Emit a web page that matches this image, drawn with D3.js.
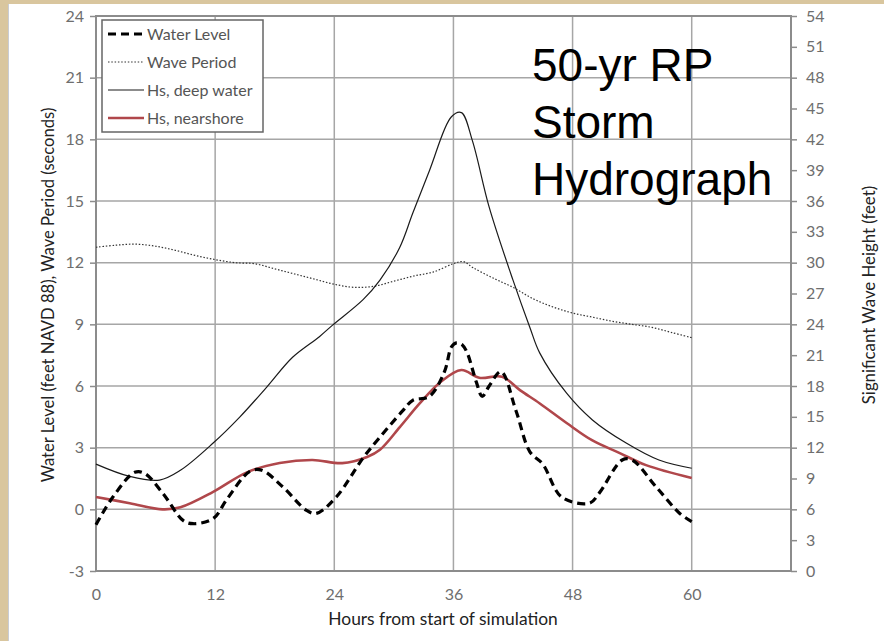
<!DOCTYPE html>
<html>
<head>
<meta charset="utf-8">
<title>50-yr RP Storm Hydrograph</title>
<script src="https://cdnjs.cloudflare.com/ajax/libs/d3/7.8.5/d3.min.js"></script>
<style>
  html, body { margin: 0; padding: 0; background: #d9c69e; }
  svg { display: block; }
  .tick text { font-family: Lato, "Open Sans", sans-serif; }
</style>
</head>
<body>
<svg id="chart" width="884" height="641"></svg>
<script>
// water level (ft NAVD88), left axis
const wlHours = [0, 1.7, 3.9, 4.9, 6.7, 8.8, 9.8, 11.8, 13.2, 15.5, 16.7, 18.8, 21.2, 22.2, 24.2, 26.9, 28.4, 30.9, 31.9, 33.6, 35.1, 35.8, 36.3, 36.9, 37.4, 38.3, 38.9, 39.6, 40.8, 42.3, 43.7, 45, 46.9, 49.7, 50.7, 53, 54, 56.4, 58.8, 60]
const wlValues = [-0.75, 0.6, 1.8, 1.75, 0.8, -0.55, -0.7, -0.45, 0.5, 1.85, 1.9, 1.1, -0.05, -0.2, 0.6, 2.5, 3.4, 4.8, 5.3, 5.5, 6.7, 7.9, 8.1, 8.0, 7.6, 6.2, 5.5, 6.0, 6.7, 4.8, 2.8, 2.2, 0.6, 0.3, 0.8, 2.4, 2.4, 1.1, -0.2, -0.6]

// wave period (s), left axis
const tpHours = [0, 2, 4, 6, 8, 10, 12, 14, 16, 18, 20, 22, 24, 26, 28, 30, 32, 34, 36, 37, 38, 40, 42, 44, 46, 48, 50, 52, 54, 56, 58, 60]
const tpValues = [12.75, 12.85, 12.9, 12.8, 12.6, 12.35, 12.15, 12.0, 11.95, 11.7, 11.45, 11.2, 10.95, 10.8, 10.85, 11.1, 11.35, 11.55, 11.95, 12.05, 11.75, 11.25, 10.8, 10.25, 9.85, 9.55, 9.35, 9.15, 9.0, 8.85, 8.6, 8.35]

// Hs deep water (ft), right axis
const hsDeepHours = [0, 3.4, 6.4, 8.5, 11.8, 14.5, 17.2, 19.8, 22.5, 23.8, 26.9, 28.6, 30.6, 31.9, 33.6, 35.8, 36.8, 37.9, 39.6, 42, 43.7, 44.7, 47.4, 50, 53.4, 56.7, 60]
const hsDeepValues = [10.4, 9.2, 8.85, 9.8, 12.45, 15, 17.9, 20.8, 22.8, 23.9, 26.4, 28.3, 31.5, 34.8, 39, 44.2, 44.6, 41.9, 35.4, 28.3, 23.7, 21.2, 17.3, 14.7, 12.45, 10.8, 10.0]

// Hs nearshore (ft), right axis
const hsNearHours = [0, 3.4, 6.7, 8.5, 11.8, 15.2, 18.5, 21.8, 24.8, 27.3, 28.6, 30.6, 32.6, 34.6, 36.8, 38.6, 40.9, 42.7, 44.7, 47.4, 50, 52.7, 55.4, 60]
const hsNearValues = [7.2, 6.6, 6.0, 6.2, 7.7, 9.6, 10.5, 10.8, 10.5, 11.1, 11.8, 14, 16.3, 18.3, 19.55, 18.8, 18.9, 17.6, 16.3, 14.4, 12.7, 11.5, 10.3, 9.05]

const xTicks = [0, 12, 24, 36, 48, 60]
const leftTicks = d3.range(-3, 25, 3)
const rightTicks = d3.range(0, 55, 3)
const legendNames = ['Water Level', 'Wave Period', 'Hs, deep water', 'Hs, nearshore']
const titleLines = ['50-yr RP', 'Storm', 'Hydrograph']

const svg = d3.select('#chart')
const plot = {left: 96, right: 791, top: 16, bottom: 571}

// white panel
svg.append('rect').attr('x', 8).attr('y', 4).attr('width', 876).attr('height', 637).attr('fill', '#fff')
svg.append('line').attr('x1', 8.5).attr('x2', 8.5).attr('y1', 4).attr('y2', 641).attr('stroke', '#c9ccd4').attr('stroke-width', 1)

const x = d3.scaleLinear().domain([0, 70]).range([plot.left, plot.right])
const yL = d3.scaleLinear().domain([-3, 24]).range([plot.bottom, plot.top])
const yR = d3.scaleLinear().domain([0, 54]).range([plot.bottom, plot.top])

// grid
svg.append('g').selectAll('line').data(leftTicks.slice(1)).join('line')
  .attr('x1', plot.left).attr('x2', plot.right)
  .attr('y1', d => yL(d)).attr('y2', d => yL(d))
  .attr('stroke', '#a6a6a6').attr('stroke-width', 1.5)
svg.append('g').selectAll('line').data(xTicks.slice(1)).join('line')
  .attr('x1', d => x(d)).attr('x2', d => x(d))
  .attr('y1', plot.top).attr('y2', plot.bottom)
  .attr('stroke', '#a6a6a6').attr('stroke-width', 1.5)

// plot border
svg.append('rect').attr('x', plot.left).attr('y', plot.top)
  .attr('width', plot.right - plot.left).attr('height', plot.bottom - plot.top)
  .attr('fill', 'none').attr('stroke', '#8c8c8c').attr('stroke-width', 2)

function styleAxis(g) {
  g.select('.domain').remove()
  g.selectAll('.tick line').attr('stroke', '#8c8c8c').attr('stroke-width', 1.5)
  g.selectAll('.tick text').attr('fill', '#6e6e6e').attr('font-size', 16)
}

svg.append('g').attr('transform', `translate(${plot.left},0)`)
  .call(d3.axisLeft(yL).tickValues(leftTicks).tickSize(6).tickPadding(6).tickFormat(d => String(d)))
  .call(styleAxis)
svg.append('g').attr('transform', `translate(${plot.right},0)`)
  .call(d3.axisRight(yR).tickValues(rightTicks).tickSize(6).tickPadding(9).tickFormat(d => String(d)))
  .call(styleAxis)
svg.append('g').attr('transform', `translate(0,${plot.bottom})`)
  .call(d3.axisBottom(x).tickValues(xTicks).tickSize(0).tickPadding(18).tickFormat(d => String(d)))
  .call(styleAxis)

// axis titles
svg.append('text').attr('x', 443).attr('y', 625).attr('text-anchor', 'middle')
  .attr('font-family', 'Lato, sans-serif').attr('font-size', 17.4).attr('fill', '#222')
  .text('Hours from start of simulation')
svg.append('text').attr('transform', 'translate(54,295) rotate(-90)').attr('text-anchor', 'middle')
  .attr('font-family', 'Lato, sans-serif').attr('font-size', 16.6).attr('fill', '#222')
  .text('Water Level (feet NAVD 88), Wave Period (seconds)')
svg.append('text').attr('transform', 'translate(875,295) rotate(-90)').attr('text-anchor', 'middle')
  .attr('font-family', 'Lato, sans-serif').attr('font-size', 16.8).attr('fill', '#222')
  .text('Significant Wave Height (feet)')

// series
const series = [
  {hours: tpHours, values: tpValues, y: yL, stroke: '#333', width: 1.2, dash: '1.5,1.8'},
  {hours: hsDeepHours, values: hsDeepValues, y: yR, stroke: '#1a1a1a', width: 1.2, dash: null},
  {hours: hsNearHours, values: hsNearValues, y: yR, stroke: '#b0474b', width: 2.6, dash: null},
  {hours: wlHours, values: wlValues, y: yL, stroke: '#000', width: 3.2, dash: '8,5'}
]
series.forEach(s => {
  const pts = s.hours.map((h, i) => [h, s.values[i]])
  const line = d3.line().x(d => x(d[0])).y(d => s.y(d[1])).curve(d3.curveCatmullRom.alpha(0.5))
  svg.append('path').datum(pts).attr('d', line)
    .attr('fill', 'none').attr('stroke', s.stroke).attr('stroke-width', s.width)
    .attr('stroke-dasharray', s.dash)
})

// legend
const legendStyles = [series[3], series[0], series[1], series[2]]
const lg = svg.append('g')
lg.append('rect').attr('x', 102).attr('y', 20).attr('width', 161).attr('height', 112)
  .attr('fill', '#fff').attr('stroke', '#666').attr('stroke-width', 1.5)
legendNames.forEach((name, i) => {
  const yy = 34 + i * 28
  const st = legendStyles[i]
  lg.append('line').attr('x1', 108).attr('x2', 144).attr('y1', yy).attr('y2', yy)
    .attr('stroke', st.stroke).attr('stroke-width', st.width).attr('stroke-dasharray', st.dash)
  lg.append('text').attr('x', 147).attr('y', yy + 5.5)
    .attr('font-family', 'Lato, sans-serif').attr('font-size', 16).attr('fill', '#555')
    .text(name)
})

// title
svg.append('g').selectAll('text').data(titleLines).join('text')
  .attr('x', 532).attr('y', (d, i) => 81 + i * 57)
  .attr('font-family', '"Liberation Sans", Arial, sans-serif').attr('font-size', 46).attr('fill', '#000')
  .text(d => d)
</script>
</body>
</html>
